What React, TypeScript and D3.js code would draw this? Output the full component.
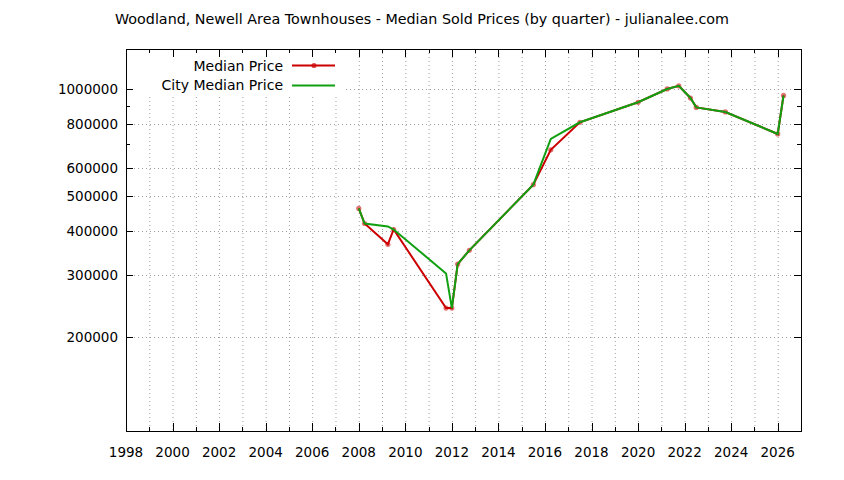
import React from 'react';
import * as d3 from 'd3';

// quarter (decimal year) and median sold price
const quarters = [2008.0, 2008.25, 2009.25, 2009.5, 2011.75, 2012.0, 2012.25, 2012.75, 2015.5, 2016.25, 2017.5, 2020.0, 2021.25, 2021.75, 2022.25, 2022.5, 2023.75, 2026.0, 2026.25];
const medianPrice = [462000, 419000, 366000, 403000, 242000, 242000, 322000, 352000, 539000, 676000, 808000, 920000, 1003000, 1024000, 946000, 890000, 864000, 749000, 962000];
const cityMedianPrice = [462000, 419000, 411000, 403000, 303000, 242000, 322000, 352000, 539000, 725000, 808000, 920000, 1003000, 1024000, 946000, 890000, 864000, 749000, 962000];

const yMajorTicks = [200000, 300000, 400000, 500000, 600000, 800000, 1000000];
const yMinorTicks = [700000, 900000];
const xLabelYears = d3.range(1998, 2027, 2);
const xAllYears = d3.range(1998, 2028, 1);

const title = 'Woodland, Newell Area Townhouses - Median Sold Prices (by quarter) - julianalee.com';
const seriesNames = ['Median Price', 'City Median Price'];

const W = 844;
const H = 480;
const left = 126, right = 801, top = 49, bottom = 431;
const RED = '#cc0000';
const GREEN = '#11a011';
const FONT = '"DejaVu Sans", sans-serif';

export default function App() {
  const x = d3.scaleLinear().domain([1998, 2027]).range([left, right]);
  const y = d3.scaleLog().domain([109000, 1300000]).range([bottom, top]);

  const redPts = quarters.map((q, i) => [q, medianPrice[i]] as [number, number]);
  const greenPts = quarters.map((q, i) => [q, cityMedianPrice[i]] as [number, number]);
  const line = d3.line<[number, number]>().x(d => x(d[0])).y(d => y(d[1]));

  return (
    <svg width={W} height={H} style={{ position: 'absolute', left: 0, top: 0, background: '#fff' }} fontFamily={FONT}>
      <rect x={0} y={0} width={W} height={H} fill="#fff" />

      {/* grid */}
      <g stroke="#a0a0a0" strokeWidth={1} strokeDasharray="1,3">
        {xAllYears.filter(v => v > 1998).map(v => (
          <line key={'gx' + v} x1={x(v) + 0.5} x2={x(v) + 0.5} y1={top} y2={bottom} />
        ))}
        {yMajorTicks.map(v => (
          <line key={'gy' + v} x1={left} x2={right} y1={Math.round(y(v)) + 0.5} y2={Math.round(y(v)) + 0.5} />
        ))}
      </g>

      {/* opaque key box */}
      <rect x={left + 1} y={top + 1} width={343 - left} height={96 - top} fill="#fff" />

      {/* ticks */}
      <g stroke="#000" strokeWidth={1}>
        {xAllYears.map(v => {
          const len = v % 2 === 0 ? 8 : 4;
          const px = Math.round(x(v)) + 0.5;
          return (
            <g key={'tx' + v}>
              <line x1={px} x2={px} y1={bottom} y2={bottom - len} />
              <line x1={px} x2={px} y1={top} y2={top + len} />
            </g>
          );
        })}
        {yMajorTicks.concat(yMinorTicks).map(v => {
          const len = yMajorTicks.includes(v) ? 7 : 4;
          const py = Math.round(y(v)) + 0.5;
          return (
            <g key={'ty' + v}>
              <line x1={left} x2={left + len} y1={py} y2={py} />
              <line x1={right} x2={right - len} y1={py} y2={py} />
            </g>
          );
        })}
      </g>

      {/* border */}
      <rect x={left + 0.5} y={top + 0.5} width={right - left} height={bottom - top} fill="none" stroke="#000" strokeWidth={1} />

      {/* tick labels */}
      <g fontSize={13.5} fill="#000">
        {xLabelYears.map(v => (
          <text key={'lx' + v} x={x(v)} y={457} textAnchor="middle">{v}</text>
        ))}
        {yMajorTicks.map(v => (
          <text key={'ly' + v} x={118} y={y(v) + 5} textAnchor="end">{v}</text>
        ))}
      </g>

      {/* title */}
      <text x={W / 2} y={24} textAnchor="middle" fontSize={14.3} fill="#000">{title}</text>

      {/* series */}
      <path d={line(redPts) || ''} fill="none" stroke={RED} strokeWidth={2} />
      <g fill={RED} fillOpacity={0.55}>
        {redPts.map((d, i) => (
          <circle key={'p' + i} cx={x(d[0])} cy={y(d[1])} r={2.6} />
        ))}
      </g>
      <path d={line(greenPts) || ''} fill="none" stroke={GREEN} strokeWidth={2} />

      {/* legend */}
      <g fontSize={14} fill="#000">
        <text x={283} y={71} textAnchor="end">{seriesNames[0]}</text>
        <line x1={292} x2={335} y1={65.5} y2={65.5} stroke={RED} strokeWidth={2} />
        <circle cx={314} cy={65.5} r={2.6} fill={RED} fillOpacity={0.7} />
        <text x={283} y={90} textAnchor="end">{seriesNames[1]}</text>
        <line x1={292} x2={335} y1={85.5} y2={85.5} stroke={GREEN} strokeWidth={2} />
      </g>
    </svg>
  );
}
